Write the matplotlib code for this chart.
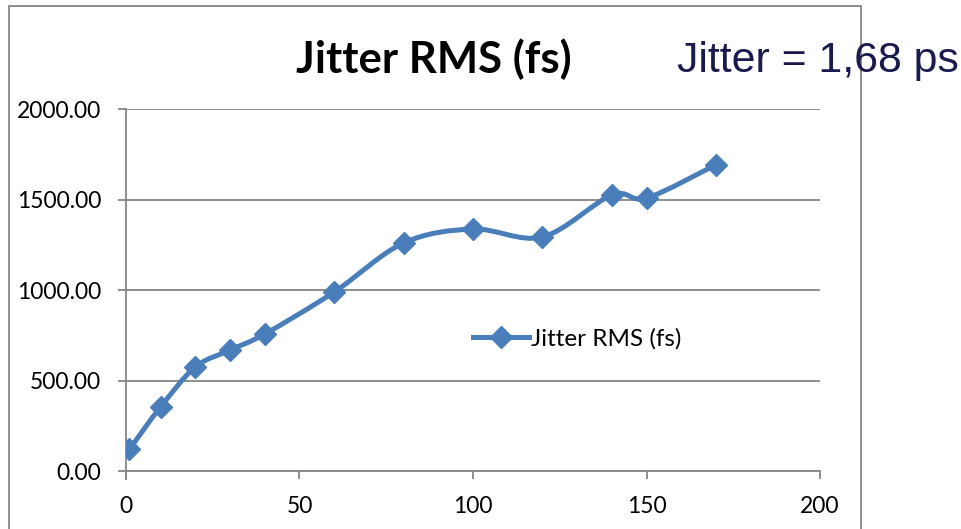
import numpy as np
import matplotlib.pyplot as plt
from matplotlib.path import Path
from matplotlib.patches import PathPatch, Rectangle
from matplotlib.lines import Line2D

# measurements
freq = [1, 10, 20, 30, 40, 60, 80, 100, 120, 140, 150, 170]
jitter_fs = [120, 355, 575, 668, 757, 989, 1260, 1337, 1293, 1525, 1508, 1692]
series_name = 'Jitter RMS (fs)'
xticks = [0, 50, 100, 150, 200]
yticks = [0, 500, 1000, 1500, 2000]

blue = '#4a7ebb'
grey = '#868686'
font = 'Lato'

fig = plt.figure(figsize=(9.61, 5.29), dpi=100)
ax = fig.add_axes([0.1311, 0.1096, 0.7222, 0.6843])

# smoothed line: Catmull-Rom style Bezier through the points
pts = np.column_stack([freq, jitter_fs]).astype(float)
verts = [pts[0]]
codes = [Path.MOVETO]
n = len(pts)
for i in range(n - 1):
    p0 = pts[i - 1] if i > 0 else pts[i]
    p1 = pts[i]
    p2 = pts[i + 1]
    p3 = pts[i + 2] if i + 2 < n else pts[i + 1]
    c1 = p1 + (p2 - p0) / 6
    c2 = p2 - (p3 - p1) / 6
    verts += [c1, c2, p2]
    codes += [Path.CURVE4] * 3
ax.add_patch(PathPatch(Path(verts, codes), fill=False, edgecolor=blue,
                       lw=3.6, capstyle='round', joinstyle='round', zorder=3))
ax.plot(freq, jitter_fs, ls='none', marker='D', ms=11, color=blue, zorder=4)

ax.set_xlim(0, 200)
ax.set_ylim(0, 2000)
ax.set_xticks(xticks)
ax.set_yticks(yticks)
ax.set_yticklabels([f'{v:.2f}' for v in yticks])
ax.yaxis.grid(True, color=grey, lw=1.3)
ax.set_axisbelow(True)
for s in ['top', 'right']:
    ax.spines[s].set_visible(False)
for s in ['left', 'bottom']:
    ax.spines[s].set_color(grey)
    ax.spines[s].set_linewidth(1.3)
ax.spines['left'].set_bounds(-45, 2000)
ax.tick_params(axis='both', direction='out', length=6, width=1.3, color=grey,
               labelsize=16.5, pad=12)
for lab in ax.get_xticklabels() + ax.get_yticklabels():
    lab.set_fontfamily(font)

handle = Line2D([], [], color=blue, lw=3.6, marker='D', ms=11)
ax.legend([handle], [series_name], loc='center left', bbox_to_anchor=(0.5, 0.3646),
          frameon=False, prop={'family': font, 'size': 17.5}, handlelength=2.3,
          handletextpad=0.1, borderpad=0, borderaxespad=0, markerscale=1)

fig.text(434 / 961, 1 - 73 / 529, series_name, ha='center', va='baseline',
         fontsize=31.5, fontweight='bold', family=font)
fig.text(677 / 961, 1 - 72 / 529, 'Jitter = 1,68 ps', ha='left', va='baseline',
         fontsize=30.8, color='#1b1a4e', family='Liberation Sans')

# chart frame
fig.patches.append(Rectangle((9 / 961, -0.1), 852 / 961, 1.1 - 6 / 529,
                             transform=fig.transFigure, fill=False,
                             edgecolor=grey, lw=1.3, zorder=0))

fig.savefig('out.png', dpi=100)
